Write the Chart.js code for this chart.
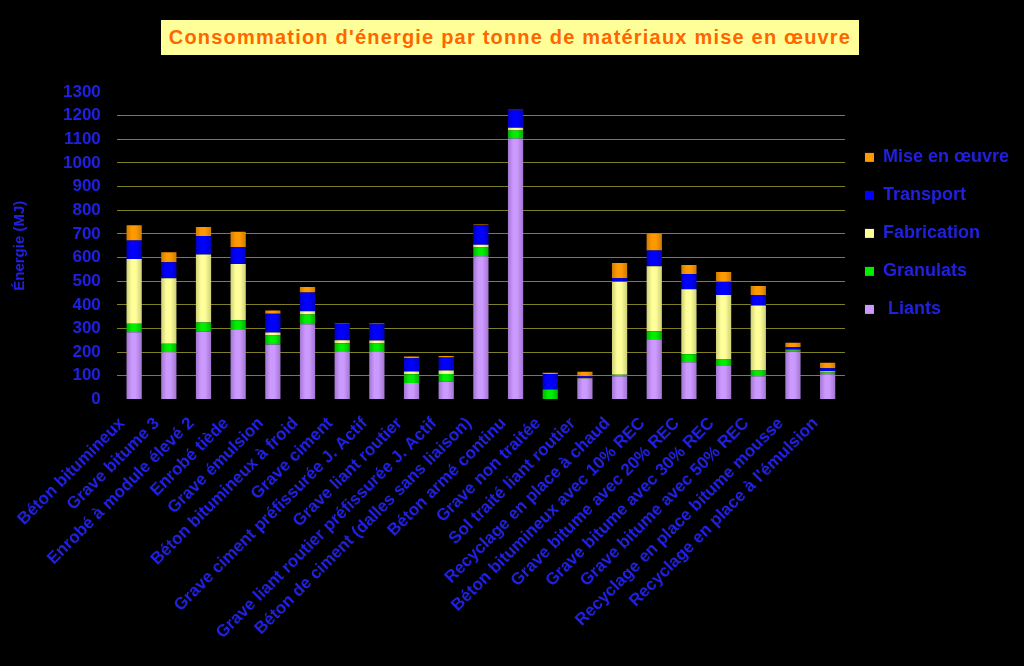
<!DOCTYPE html>
<html>
<head>
<meta charset="utf-8">
<script src="https://cdn.jsdelivr.net/npm/chart.js@4"></script>
<style>
  html, body { margin: 0; padding: 0; background: #000; }
  #wrap { position: relative; width: 1024px; height: 666px; }
  #titre {
    position: absolute; left: 161px; top: 20px; width: 698px; height: 35px;
    background: #ffff99; color: #ff6600; font: bold 20px "Liberation Sans", Arial, sans-serif;
    letter-spacing: 1.2px; line-height: 35px; text-align: center; white-space: nowrap;
  }
</style>
</head>
<body>
<div id="wrap">
  <canvas id="myChart" width="1024" height="666"></canvas>
  <div id="titre">Consommation d'énergie par tonne de matériaux mise en œuvre</div>
</div>
<script>
// catégories (axe X)
const categories = [
  "Béton bitumineux",
  "Grave bitume 3",
  "Enrobé à module élevé 2",
  "Enrobé tiède",
  "Grave émulsion",
  "Béton bitumineux à froid",
  "Grave ciment",
  "Grave ciment préfissurée J. Actif",
  "Grave liant routier",
  "Grave liant routier préfissurée J. Actif",
  "Béton de ciment (dalles sans liaison)",
  "Béton armé continu",
  "Grave non traitée",
  "Sol traité liant routier",
  "Recyclage en place à chaud",
  "Béton bitumineux avec 10% REC",
  "Grave bitume avec 20% REC",
  "Grave bitume avec 30% REC",
  "Grave bitume avec 50% REC",
  "Recyclage en place bitume mousse",
  "Recyclage en place à l'émulsion"
];

// valeurs en MJ par tonne
const liants      = [284, 200, 287, 297, 232, 318, 204, 204, 70, 75, 605, 1103, 0, 88, 98, 255, 157, 141, 98, 203, 107];
const granulats   = [36, 36, 38, 38, 38, 41, 34, 33, 37, 33, 38, 34, 42, 0, 6, 33, 34, 28, 24, 4, 7];
const fabrication = [274, 276, 288, 238, 13, 14, 12, 12, 11, 14, 11, 12, 0, 2, 394, 275, 275, 273, 275, 3, 5];
const transport   = [78, 68, 78, 72, 79, 79, 70, 69, 56, 55, 83, 74, 66, 8, 14, 67, 65, 56, 45, 12, 13];
const miseEnOeuvre = [65, 42, 38, 64, 14, 24, 2, 3, 8, 7, 3, 2, 5, 19, 65, 72, 38, 41, 38, 18, 23];

const couleurs = ["#cc99ff", "#00ee00", "#ffff99", "#0000ff", "#ff9900"];
const bleu = "#2020e0";
const police = "'Liberation Sans', Arial, sans-serif";

// petit dégradé horizontal pour donner l'effet cylindre des barres
function degrade(couleur, sombre) {
  return function (ctx) {
    const chart = ctx.chart;
    const x = chart.scales.x;
    if (!x || ctx.type !== "data") return couleur;
    const cx = x.getPixelForValue(ctx.dataIndex);
    if (!isFinite(cx)) return couleur;
    const g = chart.ctx.createLinearGradient(cx - 8, 0, cx + 8, 0);
    g.addColorStop(0, sombre);
    g.addColorStop(0.35, couleur);
    g.addColorStop(0.6, couleur);
    g.addColorStop(1, sombre);
    return g;
  };
}

const data = {
  labels: categories,
  datasets: [
    { label: " Liants", data: liants, backgroundColor: degrade(couleurs[0], "#9f74cc") },
    { label: "Granulats", data: granulats, backgroundColor: degrade(couleurs[1], "#00b000") },
    { label: "Fabrication", data: fabrication, backgroundColor: degrade(couleurs[2], "#cccc77") },
    { label: "Transport", data: transport, backgroundColor: degrade(couleurs[3], "#0000c0") },
    { label: "Mise en œuvre", data: miseEnOeuvre, backgroundColor: degrade(couleurs[4], "#cc7a00") }
  ]
};

const config = {
  type: "bar",
  data: data,
  options: {
    responsive: false,
    animation: false,
    layout: { padding: { top: 92, right: 5, bottom: 17, left: 0 } },
    datasets: { bar: { categoryPercentage: 1, barPercentage: 0.44 } },
    scales: {
      x: {
        stacked: true,
        grid: { display: false },
        border: { display: false },
        ticks: {
          color: bleu,
          font: { family: police, size: 17, weight: "bold" },
          maxRotation: 45,
          minRotation: 45,
          autoSkip: false,
          padding: 6,
          labelOffset: -12
        }
      },
      y: {
        stacked: true,
        min: 0,
        max: 1300,
        border: { display: false },
        grid: {
          drawTicks: false,
          lineWidth: 1,
          color: (c) => (c.tick && (c.tick.value === 0 || c.tick.value === 1300) ? "rgba(0,0,0,0)" : "#808022")
        },
        ticks: {
          stepSize: 100,
          autoSkip: false,
          color: bleu,
          padding: 16,
          font: { family: police, size: 17, weight: "bold" },
          callback: (v) => String(v)
        },
        title: {
          display: true,
          text: "Énergie (MJ)",
          color: bleu,
          padding: { top: 11, bottom: 18 },
          font: { family: police, size: 15, weight: "bold" }
        }
      }
    },
    plugins: {
      legend: {
        position: "right",
        align: "start",
        reverse: true,
        title: { display: true, text: " ", padding: 11, font: { size: 12 } },
        labels: {
          color: bleu,
          boxWidth: 9,
          boxHeight: 9,
          padding: 20,
          font: { family: police, size: 18, weight: "bold" },
          generateLabels: (chart) => chart.data.datasets.map((ds, i) => ({
            text: ds.label,
            fillStyle: couleurs[i],
            strokeStyle: "rgba(0,0,0,0)",
            lineWidth: 0,
            fontColor: bleu,
            hidden: false,
            datasetIndex: i
          }))
        }
      },
      tooltip: { enabled: false }
    }
  }
};

const myChart = new Chart(document.getElementById("myChart"), config);
</script>
</body>
</html>
